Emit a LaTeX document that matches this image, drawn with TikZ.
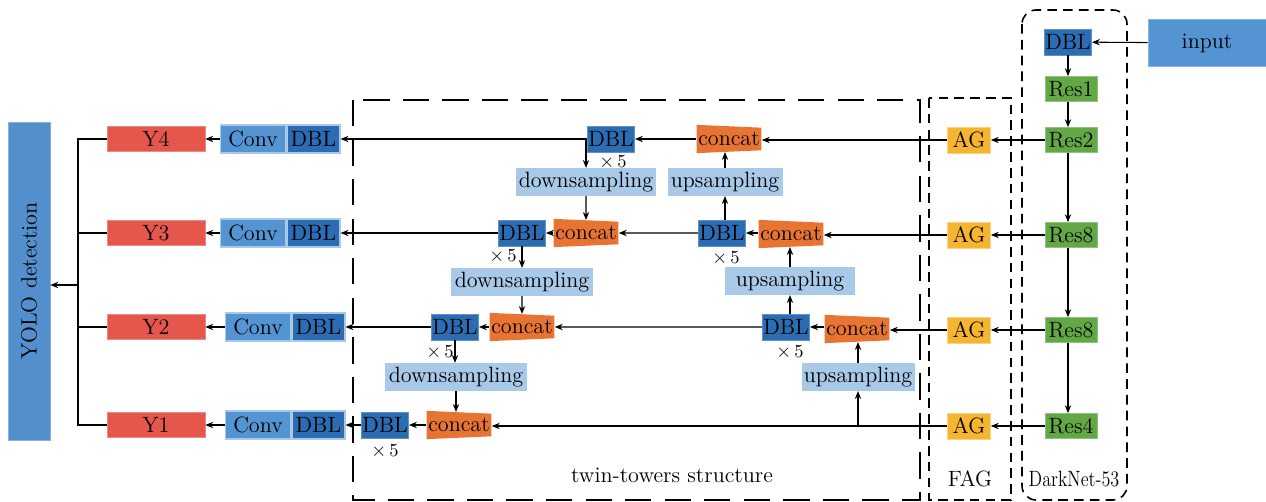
\documentclass[tikz,border=0pt]{standalone}
\usetikzlibrary{positioning,arrows.meta,shapes.geometric}

\definecolor{yoloblue}{RGB}{82,143,204}
\definecolor{dblblue}{RGB}{44,108,178}
\definecolor{convblue}{RGB}{84,148,211}
\definecolor{sampleblue}{RGB}{168,201,232}
\definecolor{concatorange}{RGB}{232,116,52}
\definecolor{agyellow}{RGB}{245,181,48}
\definecolor{resgreen}{RGB}{100,168,70}
\definecolor{yred}{RGB}{229,86,76}

\begin{document}
\begin{tikzpicture}[x=0.02cm, y=-0.02cm, font=\fontsize{12.6}{15}\selectfont,
                    >={Stealth[length=4.5pt,width=3.6pt]},
                    conn/.style={line width=0.6pt},
                    box/.style={rectangle, inner sep=0.5pt, minimum height=0.52cm},
                    dblnode/.style={box, fill=dblblue, draw=dblblue!75!white, minimum width=0.86cm},
                    pairdbl/.style={box, fill=dblblue, draw=sampleblue, line width=0.8pt, minimum width=1.06cm, minimum height=0.56cm},
                    convnode/.style={box, fill=convblue, draw=sampleblue, line width=0.8pt, minimum width=1.3cm, minimum height=0.56cm},
                    ynode/.style={box, fill=yred, draw=yred!70!white, minimum width=1.96cm, minimum height=0.5cm},
                    samplenode/.style={box, fill=sampleblue, minimum width=2.3cm, minimum height=0.55cm},
                    concatnode/.style={trapezium, trapezium angle=87.5, shape border rotate=270, fill=concatorange,
                                       inner xsep=1pt, inner ysep=2.5pt},
                    agnode/.style={box, fill=agyellow, draw=agyellow!60!white, minimum width=0.86cm},
                    resnode/.style={box, fill=resgreen, draw=resgreen!70!white, minimum width=1.04cm, minimum height=0.5cm},
                    timesnode/.style={inner sep=0pt, font=\fontsize{10.5}{12}\selectfont},
                    twinbox/.style={line width=1.1pt, dash pattern=on 15pt off 7.5pt},
                    groupbox/.style={line width=0.9pt, dash pattern=on 5.5pt off 3.5pt},
                ]
                    \useasboundingbox (0,0) rectangle (1266,502);

                    %Group frames
                    \draw[twinbox] (353,100) rectangle (920,500);
                    \draw[groupbox] (929,98) rectangle (1011,500);
                    \draw[groupbox, rounded corners=8pt] (1022,10) rectangle (1127,500);
                    \node (twinlabel) at (672,475) {twin-towers structure};
                    \node (faglabel) at (970,479) {FAG};
                    \node (darklabel) at (1074,479) {\scalebox{0.82}[1]{DarkNet-53}};

                    %Nodes: detection side
                    \node[box, fill=yoloblue, draw=yoloblue!70!white, rotate=90,
                          minimum width=6.36cm, minimum height=0.84cm] (yolo) at (29,281) {YOLO detection};
                    \node[ynode](y4) at (156,139) {Y4};
                    \node[ynode](y3) at (156,233) {Y3};
                    \node[ynode](y2) at (156,327) {Y2};
                    \node[ynode](y1) at (156,425) {Y1};
                    \node[convnode](conv4) at (253,139) {Conv};
                    \node[pairdbl](cdbl4)[right=0pt of conv4] {DBL};
                    \node[convnode](conv3) at (253,233) {Conv};
                    \node[pairdbl](cdbl3)[right=0pt of conv3] {DBL};
                    \node[convnode](conv2) at (258,327) {Conv};
                    \node[pairdbl](cdbl2)[right=0pt of conv2] {DBL};
                    \node[convnode](conv1) at (258,425) {Conv};
                    \node[pairdbl](cdbl1)[right=0pt of conv1] {DBL};
                    \coordinate (bus) at (78,285);

                    %Nodes: twin towers
                    \node[dblnode](dblT) at (611,139) {DBL};
                    \node[concatnode](concatT) at (729,139) {concat};
                    \node[samplenode, minimum width=2.8cm](downT) at (586,182) {downsampling};
                    \node[samplenode](upT) at (725,182) {upsampling};
                    \node[dblnode](dblL3) at (522,233) {DBL};
                    \node[concatnode](concatL3) at (586,233) {concat};
                    \node[dblnode](dblR3) at (722,233) {DBL};
                    \node[concatnode](concatR3) at (791,234) {concat};
                    \node[samplenode, minimum width=2.84cm](downM) at (522,282) {downsampling};
                    \node[samplenode, minimum width=2.6cm](upM) at (790,281) {upsampling};
                    \node[dblnode](dblL2) at (455,327) {DBL};
                    \node[concatnode](concatL2) at (522,327) {concat};
                    \node[dblnode](dblR2) at (786,327) {DBL};
                    \node[concatnode](concatR2) at (857,329) {concat};
                    \node[samplenode, minimum width=2.86cm](downB) at (456,377) {downsampling};
                    \node[samplenode, minimum width=2.26cm](upB) at (858,377) {upsampling};
                    \node[dblnode](dblL1) at (385,425) {DBL};
                    \node[concatnode](concatL1) at (459,425) {concat};

                    % repeat counts under the DBL blocks
                    \node[timesnode](xT) at (613,162) {$\times$\,5};
                    \node[timesnode](xL3) at (503,256) {$\times$\,5};
                    \node[timesnode](xR3) at (726,258) {$\times$\,5};
                    \node[timesnode](xL2) at (440,352) {$\times$\,5};
                    \node[timesnode](xR2) at (790,352) {$\times$\,5};
                    \node[timesnode](xL1) at (385,451) {$\times$\,5};

                    %Nodes: FAG and backbone
                    \node[agnode](ag4) at (969,140) {AG};
                    \node[agnode](ag3) at (969,235) {AG};
                    \node[agnode](ag2) at (969,330) {AG};
                    \node[agnode](ag1) at (969,426) {AG};
                    \node[box, fill=convblue, draw=convblue!70!white, minimum width=2.36cm,
                          minimum height=0.94cm](input) at (1207,43) {input};
                    \node[dblnode](dbl0) at (1068,42) {DBL};
                    \node[resnode](res1) at (1071,89) {Res1};
                    \node[resnode](res2) at (1071,140) {Res2};
                    \node[resnode](res8a) at (1071,235) {Res8};
                    \node[resnode](res8b) at (1071,330) {Res8};
                    \node[resnode](res4) at (1071,426) {Res4};

                    %Lines: backbone
                    \draw[conn, ->](input) -- (dbl0);
                    \draw[conn, ->](dbl0.south) -- (dbl0.south |- res1.north);
                    \draw[conn, ->](res1.south -| dbl0.south) -- (dbl0.south |- res2.north);
                    \draw[conn, ->](res2.south -| dbl0.south) -- (dbl0.south |- res8a.north);
                    \draw[conn, ->](res8a.south -| dbl0.south) -- (dbl0.south |- res8b.north);
                    \draw[conn, ->](res8b.south -| dbl0.south) -- (dbl0.south |- res4.north);
                    \draw[conn, ->](res2) -- (ag4);
                    \draw[conn, ->](res8a) -- (ag3);
                    \draw[conn, ->](res8b) -- (ag2);
                    \draw[conn, ->](res4) -- (ag1);

                    %Lines: top-down tower
                    \draw[conn, ->](ag4.west) -- (concatT.east |- ag4.west);
                    \draw[conn, ->](concatT.west |- dblT) -- (dblT);
                    \draw[conn, ->](dblT) -- (cdbl4);
                    \draw[conn, ->](downT.north |- dblT) -- (downT.north);
                    \draw[conn, ->](downT) -- (concatL3);
                    \draw[conn, ->](concatL3.west |- dblL3) -- (dblL3);
                    \draw[conn, ->](dblL3) -- (cdbl3);
                    \draw[conn, ->](dblL3) -- (downM);
                    \draw[conn, ->](downM) -- (concatL2);
                    \draw[conn, ->](concatL2.west |- dblL2) -- (dblL2);
                    \draw[conn, ->](dblL2) -- (cdbl2);
                    \draw[conn, ->](dblL2.south) -- (dblL2.south |- downB.north);
                    \draw[conn, ->](downB.south) -- (downB.south |- concatL1.north);
                    \draw[conn, ->](concatL1.west |- dblL1) -- (dblL1);
                    \draw[conn, ->](dblL1) -- (cdbl1);

                    %Lines: bottom-up tower
                    \draw[conn, ->](ag1.west) -- (concatL1.east |- ag1.west);
                    \coordinate (split) at (upB.south |- ag1.west);
                    \draw[conn, ->](split) -- (upB.south);
                    \draw[conn, ->](upB.north) -- (upB.north |- concatR2.south);
                    \draw[conn, ->](ag2.west) -- (concatR2.east |- ag2.west);
                    \draw[conn, ->](concatR2.west |- dblR2) -- (dblR2);
                    \draw[conn, ->](dblR2) -- (concatL2);
                    \draw[conn, ->](upM.south |- dblR2.north) -- (upM.south);
                    \draw[conn, ->](upM.north) -- (upM.north |- concatR3.south);
                    \draw[conn, ->](ag3.west) -- (concatR3.east |- ag3.west);
                    \draw[conn, ->](concatR3.west |- dblR3) -- (dblR3);
                    \draw[conn, ->](dblR3) -- (concatL3);
                    \draw[conn, ->](upT.south |- dblR3.north) -- (upT.south);
                    \draw[conn, ->](upT.north) -- (upT.north |- concatT.south);

                    %Lines: heads
                    \draw[conn, ->](conv4) -- (y4);
                    \draw[conn, ->](conv3) -- (y3);
                    \draw[conn, ->](conv2) -- (y2);
                    \draw[conn, ->](conv1) -- (y1);
                    \draw[conn](y4.west) -| (bus) |- (y1.west);
                    \draw[conn](y3.west) -- (y3.west -| bus);
                    \draw[conn](y2.west) -- (y2.west -| bus);
                    \draw[line width=1pt, ->](bus) -- (bus -| yolo.south);
                \end{tikzpicture}
\end{document}
